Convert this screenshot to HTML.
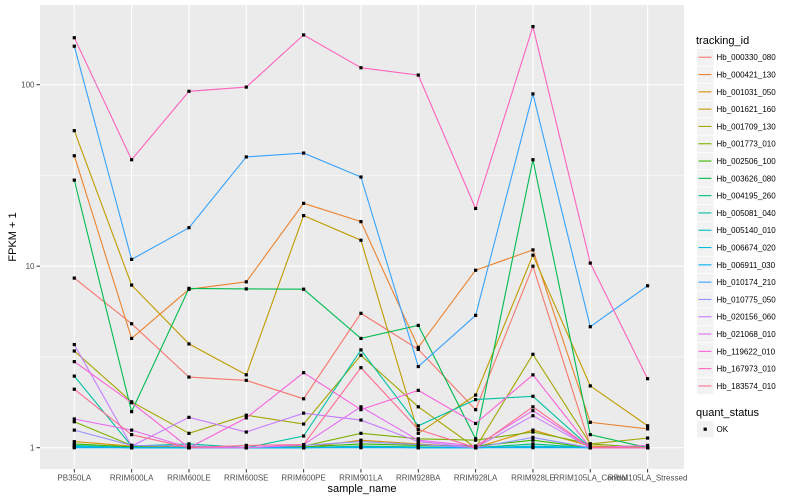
<!DOCTYPE html>
<html><head><meta charset="utf-8"><style>
body{margin:0;background:#fff;}
svg{display:block;font-family:"Liberation Sans",sans-serif;}
</style></head><body>
<svg id="chart" width="800" height="500" viewBox="0 0 800 500" xmlns="http://www.w3.org/2000/svg">
<rect x="0" y="0" width="800" height="500" fill="#fff"/>
<rect x="40" y="5" width="644" height="464" fill="#EBEBEB"/>
<g id="grid"></g>
<g id="series"></g>
<g id="axes"></g>
<g id="legend"></g>
<text x="362" y="492" font-size="11" text-anchor="middle" fill="#000">sample_name</text>
<text x="16" y="237" font-size="11" text-anchor="middle" fill="#000" transform="rotate(-90 16 237)">FPKM + 1</text>
</svg>
<script>
const categories=["PB350LA","RRIM600LA","RRIM600LE","RRIM600SE","RRIM600PE","RRIM901LA","RRIM928BA","RRIM928LA","RRIM928LE","RRIM105LA_Control","RRIM105LA_Stressed"];
const seriesNames=["Hb_000330_080","Hb_000421_130","Hb_001031_050","Hb_001621_160","Hb_001709_130","Hb_001773_010","Hb_002506_100","Hb_003626_080","Hb_004195_260","Hb_005081_040","Hb_005140_010","Hb_006674_020","Hb_006911_030","Hb_010174_210","Hb_010775_050","Hb_020156_060","Hb_021068_010","Hb_119622_010","Hb_167973_010","Hb_183574_010"];
const seriesColors=["#F8766D","#EA8331","#D89000","#C09B00","#A3A500","#7CAE00","#39B600","#00BB4E","#00BF7D","#00C1A3","#00BFC4","#00BAE0","#00B0F6","#35A2FF","#9590FF","#C77CFF","#E76BF3","#FA62DB","#FF62BC","#FF6C91"];
const s01=[8.6,4.82,2.45,2.35,1.86,5.5,3.48,1.62,10,1.02,1.0];
const s02=[40.6,4,7.46,8.2,22.2,17.6,3.57,9.5,12.3,1.38,1.27];
const s03=[1.08,1.02,1.01,1.0,1.0,1.1,1.05,1.0,1.25,1.02,1.0];
const s04=[55.8,7.87,3.73,2.52,19,13.9,1.2,1.95,11.5,2.19,1.32];
const s05=[3.41,1.79,1.2,1.51,1.35,3.23,1.68,1.0,3.27,1.05,1.13];
const s06=[1.39,1.03,1.02,1.0,1.02,1.2,1.12,1.1,1.22,1.05,1.0];
const s07=[1.05,1.01,1.0,1.0,1.01,1.05,1.03,1.02,1.1,1.0,1.0];
const s08=[29.8,1.58,7.55,7.5,7.47,4,4.72,1.12,38.6,1.18,1.0];
const s09=[1.03,1.0,1.0,1.0,1.0,1.02,1.01,1.0,1.05,1.0,1.0];
const s10=[2.48,1.02,1.05,1.0,1.16,3.46,1.32,1.84,1.92,1.0,1.0];
const s11=[1.02,1.0,1.0,1.0,1.0,1.01,1.0,1.0,1.02,1.0,1.0];
const s12=[1.01,1.0,1.0,1.0,1.0,1.01,1.0,1.0,1.01,1.0,1.0];
const s13=[1.0,1.0,1.0,1.0,1.0,1.0,1.0,1.0,1.0,1.0,1.0];
const s14=[163,10.9,16.3,40,42,31,2.8,5.36,89,4.64,7.8];
const s15=[1.25,1.03,1.02,1.0,1.03,1.08,1.04,1.0,1.14,1.0,1.0];
const s16=[3.7,1.02,1.47,1.22,1.55,1.42,1.08,1.0,1.5,1.0,1.0];
const s17=[1.44,1.25,1.0,1.0,1.04,1.68,1.1,1.02,1.6,1.0,1.03];
const s18=[2.98,1.77,1.0,1.46,2.59,1.62,2.07,1.36,2.52,1.0,1.0];
const s19=[181.5,38.6,92,97,188,124,113,20.8,209,10.4,2.4];
const s20=[2.1,1.18,1.0,1.03,1.04,2.76,1.26,1.0,1.68,1.0,1.0];
const seriesValues=[s01,s02,s03,s04,s05,s06,s07,s08,s09,s10,s11,s12,s13,s14,s15,s16,s17,s18,s19,s20];
const yTicks=[1,10,100];
const yTickLabels=["1","10","100"];

const NS="http://www.w3.org/2000/svg";
function mk(tag,attrs,parent){const e=document.createElementNS(NS,tag);for(const k in attrs)e.setAttribute(k,attrs[k]);parent.appendChild(e);return e;}
const x0=74.3, step=57.33;
function xScale(i){return x0+step*i;}
function yScale(v){return 447.7-181.5*Math.log10(v);}

const grid=document.getElementById('grid');
[0.5,1.5,2.5].forEach(p=>{const y=yScale(Math.pow(10,p));if(y>5&&y<469){const l=mk('line',{x1:40,x2:684,y1:y,y2:y,stroke:'#fff','stroke-width':0.5},grid);

}});
yTicks.forEach(t=>{const y=yScale(t);const l=mk('line',{x1:40,x2:684,y1:y,y2:y,stroke:'#fff','stroke-width':1.1},grid);

});
categories.forEach((c,i)=>{const x=xScale(i);const l=mk('line',{x1:x,x2:x,y1:5,y2:469,stroke:'#fff','stroke-width':1.1},grid);

});

const sg=document.getElementById('series');
seriesValues.forEach((vals,si)=>{
 const pts=vals.map((v,i)=>xScale(i).toFixed(1)+','+yScale(v).toFixed(1)).join(' ');
 const pl=mk('polyline',{points:pts,fill:'none',stroke:seriesColors[si],'stroke-width':1.1},sg);
 
 
});
seriesValues.forEach((vals,si)=>{
 vals.forEach((v,i)=>{const r=mk('rect',{x:xScale(i)-1.6,y:yScale(v)-1.6,width:3.2,height:3.2,fill:'#000'},sg);
 
 });
});

const ax=document.getElementById('axes');
yTicks.forEach((t,i)=>{const y=yScale(t);
 const tk=mk('line',{x1:36.5,x2:40,y1:y,y2:y,stroke:'#333','stroke-width':1},ax);
 
 
 const tx=mk('text',{x:34.5,y:y+3,'font-size':8,'text-anchor':'end',fill:'#4D4D4D'},ax);tx.textContent=yTickLabels[i];
 
 });
categories.forEach((c,i)=>{const x=xScale(i);
 const tk=mk('line',{x1:x,x2:x,y1:469,y2:472.5,stroke:'#333','stroke-width':1},ax);
 
 
 const tx=mk('text',{x:x,y:480.5,'font-size':8,'text-anchor':'middle',fill:'#4D4D4D'},ax);tx.textContent=c;
 
 });

const lg=document.getElementById('legend');
const lt=mk('text',{x:696,y:44,'font-size':11,fill:'#000'},lg);lt.textContent='tracking_id';


seriesNames.forEach((n,i)=>{const y=49+17.3*i;
 const g=mk('g',{},lg);
 
 
 mk('rect',{x:697,y:y,width:16.5,height:16.5,fill:'#F2F2F2'},g);
 mk('line',{x1:698.5,x2:711.5,y1:y+8.25,y2:y+8.25,stroke:seriesColors[i],'stroke-width':1.1},g);
 const t=mk('text',{x:716.5,y:y+11.2,'font-size':8,fill:'#000'},g);t.textContent=n;});
const qt=mk('text',{x:696,y:416,'font-size':11,fill:'#000'},lg);qt.textContent='quant_status';


const qg=mk('g',{},lg);


mk('rect',{x:697,y:421,width:16.5,height:16.5,fill:'#F2F2F2'},qg);
mk('rect',{x:703.6,y:427.6,width:3.2,height:3.2,fill:'#000'},qg);
const okt=mk('text',{x:716.5,y:432.2,'font-size':8,fill:'#000'},qg);okt.textContent='OK';
</script>
</body></html>
